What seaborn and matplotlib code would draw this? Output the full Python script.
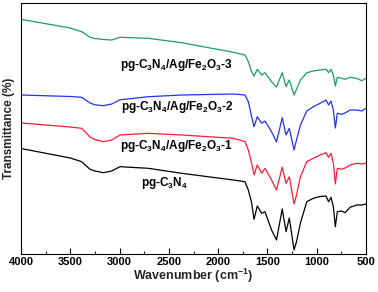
import matplotlib
matplotlib.use("Agg")
import matplotlib.pyplot as plt
import seaborn as sns
import pandas as pd
from matplotlib.ticker import MultipleLocator

sns.set_theme(style="white")
plt.rcParams['font.family'] = ['Liberation Sans', 'DejaVu Sans']
plt.rcParams['font.weight'] = 'bold'
plt.rcParams['mathtext.fontset'] = 'custom'
plt.rcParams['mathtext.rm'] = 'Liberation Sans:bold'
plt.rcParams['mathtext.bf'] = 'Liberation Sans:bold'
plt.rcParams['mathtext.default'] = 'rm'

wavenumber = [4000, 3500, 3384, 3300, 3250, 3165, 3080, 2996, 2709, 2370, 1846,
              1728, 1694, 1660, 1636, 1603, 1558, 1525, 1458, 1408, 1350, 1311,
              1278, 1230, 1205, 1165, 1101, 1034, 966, 906, 879, 855, 831, 811,
              791, 747, 713, 662, 594, 544, 500]

t_pg = [105.5, 96, 92.3, 84.7, 83, 81.3, 83, 87.3, 85.7, 80.7, 74, 72.3, 64, 51,
        34.7, 48, 40.7, 42.3, 24, 14, 45, 22.3, 36, 4, 12.3, 31, 52.3, 55.7,
        57.5, 58, 52.3, 56.7, 47.3, 27.3, 42.3, 43, 41.3, 46.7, 49, 49, 50]

t_1 = [131, 127, 125.7, 117, 114.5, 112.3, 114, 119, 120.7, 119, 115.7, 112.3,
       104, 90.7, 79, 89, 80.7, 85.7, 74, 64, 86.7, 70.7, 77.3, 50, 59, 77.3,
       92.3, 95.7, 99, 101.3, 96.7, 100.7, 90.7, 70, 85.7, 84.7, 86, 89, 90.7,
       90, 90.7]

t_2 = [159, 157.5, 156.7, 151, 149.2, 148.3, 150, 154.2, 157.3, 159, 160, 159,
       152.3, 137.3, 127.3, 137.3, 130.7, 133, 122.3, 112, 136.3, 119, 125.7,
       104, 114, 129, 143, 147.3, 150.7, 154, 149, 153, 144, 126, 140.7, 139.7,
       141, 144, 144, 143, 145.7]

t_3 = [234.7, 226, 222.3, 216.7, 215.5, 214.5, 214, 216.7, 215.7, 211.3, 201.7,
       199, 192.3, 182.3, 178, 184.7, 179, 181.3, 172.3, 167, 181.3, 167.3, 174,
       159, 164.7, 174, 181.3, 183, 184, 184.7, 181.3, 184.7, 179, 168, 176.7,
       175.7, 174.7, 176.7, 175.7, 173.3, 175.7]

series_names = ['pg-C3N4', 'pg-C3N4/Ag/Fe2O3-1', 'pg-C3N4/Ag/Fe2O3-2', 'pg-C3N4/Ag/Fe2O3-3']
series_values = [t_pg, t_1, t_2, t_3]
colors = ['#000000', '#ff1a35', '#2233ee', '#1b9a6c']

labels = [r'pg-C$_3$N$_4$',
          r'pg-C$_3$N$_4$/Ag/Fe$_2$O$_3$-1',
          r'pg-C$_3$N$_4$/Ag/Fe$_2$O$_3$-2',
          r'pg-C$_3$N$_4$/Ag/Fe$_2$O$_3$-3']
label_x = [2545, 2420, 2420, 2420]
label_y = [71, 108, 147, 189]

rows = []
for name, vals in zip(series_names, series_values):
    for w, v in zip(wavenumber, vals):
        rows.append({'w': w, 't': v, 's': name})
df = pd.DataFrame(rows)

fig = plt.figure(figsize=(3.78, 2.92), dpi=100)
ax = fig.add_axes([21/378, 1 - 254/292, 345/378, 251/292])

sns.lineplot(data=df, x='w', y='t', hue='s', palette=dict(zip(series_names, colors)),
             hue_order=series_names, sort=False, estimator=None, linewidth=0.9,
             legend=False, ax=ax)

for lab, lx, ly in zip(labels, label_x, label_y):
    ax.text(lx, ly, lab, ha='center', va='center', fontsize=8.5, fontweight='bold',
            color='black')

ax.set_xlim(4000, 500)
ax.set_ylim(0, 251)
ax.xaxis.set_major_locator(MultipleLocator(500))
ax.xaxis.set_minor_locator(MultipleLocator(250))
ax.set_yticks([])
ax.tick_params(axis='x', which='major', direction='in', length=4, width=0.8,
               bottom=True, top=False, labelsize=8, pad=2, colors='black')
ax.tick_params(axis='x', which='minor', direction='in', length=2.5, width=0.8,
               bottom=True, top=False)
for lbl in ax.get_xticklabels():
    lbl.set_fontweight('bold')
for sp in ax.spines.values():
    sp.set_color('black')
    sp.set_linewidth(0.8)

ax.set_xlabel(r'Wavenumber (cm$^{-1}$)', fontsize=9, fontweight='bold', labelpad=0)
ax.set_ylabel('Transmittance (%)', fontsize=8.5, fontweight='bold', labelpad=4)

fig.savefig('out.png', dpi=100)
